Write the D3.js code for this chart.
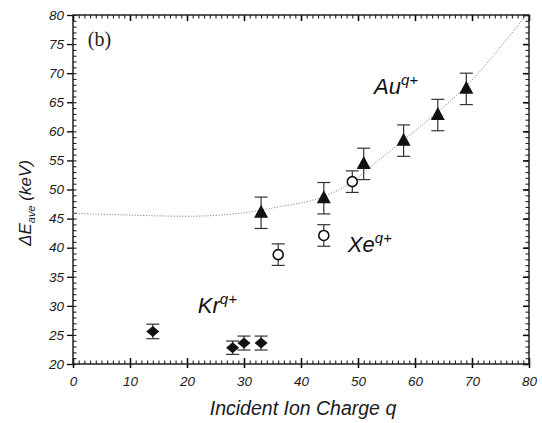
<!DOCTYPE html>
<html lang="en">
<head>
  <meta charset="UTF-8" />
  <title>Delta E ave vs incident ion charge</title>
  <script src="https://d3js.org/d3.v7.min.js"></script>
  <style>
    html, body {
      margin: 0;
      padding: 0;
      background: white;
      overflow: hidden;
    }
    text {
      font-family: "Liberation Sans", Arial, sans-serif;
    }
  </style>
</head>
<body>
  <svg id="chart" width="542" height="423"></svg>

  <script>
    // Kr (filled diamonds)
    const krCharge = [14, 28, 30, 33];
    const krValue  = [25.6, 22.8, 23.6, 23.6];
    const krError  = [1.25, 1.15, 1.2, 1.2];

    // Xe (open circles)
    const xeCharge = [36, 44, 49];
    const xeValue  = [38.8, 42.1, 51.35];
    const xeError  = [1.85, 1.85, 1.85];

    // Au (filled triangles)
    const auCharge = [33, 44, 51, 58, 64, 69];
    const auValue  = [46.0, 48.5, 54.4, 58.4, 62.8, 67.3];
    const auError  = [2.7, 2.7, 2.7, 2.7, 2.7, 2.7];

    // dotted fit curve
    const fitCharge = [0, 10, 20, 30, 36, 44, 49, 52, 58, 63, 70, 75, 79.5];
    const fitValue  = [45.9, 45.6, 45.4, 46.0, 47.0, 48.8, 51.3, 53.7, 58.5, 62.5, 68.8, 74.5, 80];

    const xTicks = [0, 10, 20, 30, 40, 50, 60, 70, 80];
    const yTicks = [20, 25, 30, 35, 40, 45, 50, 55, 60, 65, 70, 75, 80];

    const margin = { top: 15, right: 13, bottom: 59, left: 73 };
    const width = 542 - margin.left - margin.right;
    const height = 423 - margin.top - margin.bottom;

    const svg = d3.select("#chart");
    const g = svg.append("g")
      .attr("transform", `translate(${margin.left},${margin.top})`);

    const x = d3.scaleLinear().domain([0, 80]).range([0, width]);
    const y = d3.scaleLinear().domain([20, 80]).range([height, 0]);

    // minor ticks (every 1 unit, inward)
    const xMinor = d3.range(0, 81, 1);
    const yMinor = d3.range(20, 81, 1);

    function minor(sel) {
      sel.select(".domain").remove();
      sel.selectAll(".tick line").attr("stroke", "#222").attr("stroke-width", 1.1);
    }

    g.append("g")
      .attr("transform", `translate(0,${height})`)
      .call(d3.axisTop(x).tickValues(xMinor).tickSize(3.5).tickFormat(""))
      .call(minor);
    g.append("g")
      .call(d3.axisBottom(x).tickValues(xMinor).tickSize(3.5).tickFormat(""))
      .call(minor);
    g.append("g")
      .call(d3.axisRight(y).tickValues(yMinor).tickSize(3.5).tickFormat(""))
      .call(minor);
    g.append("g")
      .attr("transform", `translate(${width},0)`)
      .call(d3.axisLeft(y).tickValues(yMinor).tickSize(3.5).tickFormat(""))
      .call(minor);

    // major ticks
    const xAxis = g.append("g")
      .attr("transform", `translate(0,${height})`)
      .call(d3.axisBottom(x).tickValues(xTicks).tickSize(4).tickPadding(8).tickFormat(d3.format("d")));
    xAxis.select(".domain").remove();
    xAxis.selectAll(".tick line").attr("y1", -6).attr("stroke-width", 1.5);

    g.append("g")
      .call(d3.axisBottom(x).tickValues(xTicks).tickSize(6).tickFormat(""))
      .call(a => a.select(".domain").remove())
      .selectAll(".tick line").attr("stroke-width", 1.5);

    const yAxis = g.append("g")
      .call(d3.axisLeft(y).tickValues(yTicks).tickSize(6).tickPadding(3).tickFormat(d3.format("d")));
    yAxis.select(".domain").remove();
    yAxis.selectAll(".tick line").attr("stroke-width", 1.3);

    g.append("g")
      .attr("transform", `translate(${width},0)`)
      .call(d3.axisLeft(y).tickValues(yTicks).tickSize(6).tickFormat(""))
      .call(a => a.select(".domain").remove())
      .selectAll(".tick line").attr("stroke-width", 1.5);

    g.selectAll(".tick text")
      .attr("font-size", 13.5)
      .attr("font-style", "italic")
      .attr("fill", "#1a1a1a");

    // frame
    g.append("rect")
      .attr("width", width)
      .attr("height", height)
      .attr("fill", "none")
      .attr("stroke", "#222")
      .attr("stroke-width", 1.5);

    // fit curve
    const fitData = fitCharge.map((q, i) => ({ q, v: fitValue[i] }));
    g.append("path")
      .datum(fitData)
      .attr("fill", "none")
      .attr("stroke", "#888")
      .attr("stroke-width", 1)
      .attr("stroke-dasharray", "1.2,1.6")
      .attr("d", d3.line().x(d => x(d.q)).y(d => y(d.v)).curve(d3.curveMonotoneX));

    function series(charges, values, errors) {
      return charges.map((q, i) => ({ q, v: values[i], e: errors[i] }));
    }
    const kr = series(krCharge, krValue, krError);
    const xe = series(xeCharge, xeValue, xeError);
    const au = series(auCharge, auValue, auError);

    function errorBars(data, cap) {
      const eg = g.append("g").attr("stroke", "#333").attr("stroke-width", 1.2);
      eg.selectAll(".stem").data(data).join("line")
        .attr("x1", d => x(d.q)).attr("x2", d => x(d.q))
        .attr("y1", d => y(d.v - d.e)).attr("y2", d => y(d.v + d.e));
      eg.selectAll(".capTop").data(data).join("line")
        .attr("x1", d => x(d.q) - cap / 2).attr("x2", d => x(d.q) + cap / 2)
        .attr("y1", d => y(d.v + d.e)).attr("y2", d => y(d.v + d.e));
      eg.selectAll(".capBot").data(data).join("line")
        .attr("x1", d => x(d.q) - cap / 2).attr("x2", d => x(d.q) + cap / 2)
        .attr("y1", d => y(d.v - d.e)).attr("y2", d => y(d.v - d.e));
    }

    errorBars(kr, 13);
    errorBars(xe, 13);
    errorBars(au, 13);

    // Kr diamonds
    g.selectAll(".kr").data(kr).join("path")
      .attr("transform", d => `translate(${x(d.q)},${y(d.v)})`)
      .attr("d", "M0,-5.5L6.5,0L0,5.5L-6.5,0Z")
      .attr("fill", "#111");

    // Xe open circles
    g.selectAll(".xe").data(xe).join("circle")
      .attr("cx", d => x(d.q))
      .attr("cy", d => y(d.v))
      .attr("r", 5)
      .attr("fill", "white")
      .attr("stroke", "#111")
      .attr("stroke-width", 1.6);

    // Au triangles
    g.selectAll(".au").data(au).join("path")
      .attr("transform", d => `translate(${x(d.q)},${y(d.v)})`)
      .attr("d", "M0,-8L7,5L-7,5Z")
      .attr("fill", "#111");

    // series labels
    function ionLabel(txt, q, v) {
      const t = g.append("text")
        .attr("x", x(q))
        .attr("y", y(v))
        .attr("font-size", 22)
        .attr("font-style", "italic")
        .attr("fill", "#111");
      t.append("tspan").text(txt);
      t.append("tspan").attr("dy", -9).attr("font-size", 15).text("q+");
    }
    ionLabel("Au", 52.8, 66.5);
    ionLabel("Xe", 48.2, 39.2);
    ionLabel("Kr", 21.9, 28.8);

    g.append("text")
      .attr("x", x(2.6))
      .attr("y", y(74.6))
      .attr("font-size", 20)
      .attr("fill", "#222")
      .style("font-family", "'Liberation Serif', serif")
      .text("(b)");

    // axis titles
    svg.append("text")
      .attr("x", margin.left + width / 2 + 2)
      .attr("y", 415)
      .attr("text-anchor", "middle")
      .attr("font-size", 19.5)
      .attr("font-style", "italic")
      .attr("fill", "#1a1a1a")
      .text("Incident Ion Charge q");

    const yt = svg.append("text")
      .attr("transform", "translate(31,203) rotate(-90)")
      .attr("text-anchor", "middle")
      .attr("font-size", 17)
      .attr("font-style", "italic")
      .attr("fill", "#1a1a1a");
    yt.append("tspan").text("ΔE");
    yt.append("tspan").attr("dy", 4).attr("font-size", 11).text("ave");
    yt.append("tspan").attr("dy", -4).text(" (keV)");
  </script>
</body>
</html>
